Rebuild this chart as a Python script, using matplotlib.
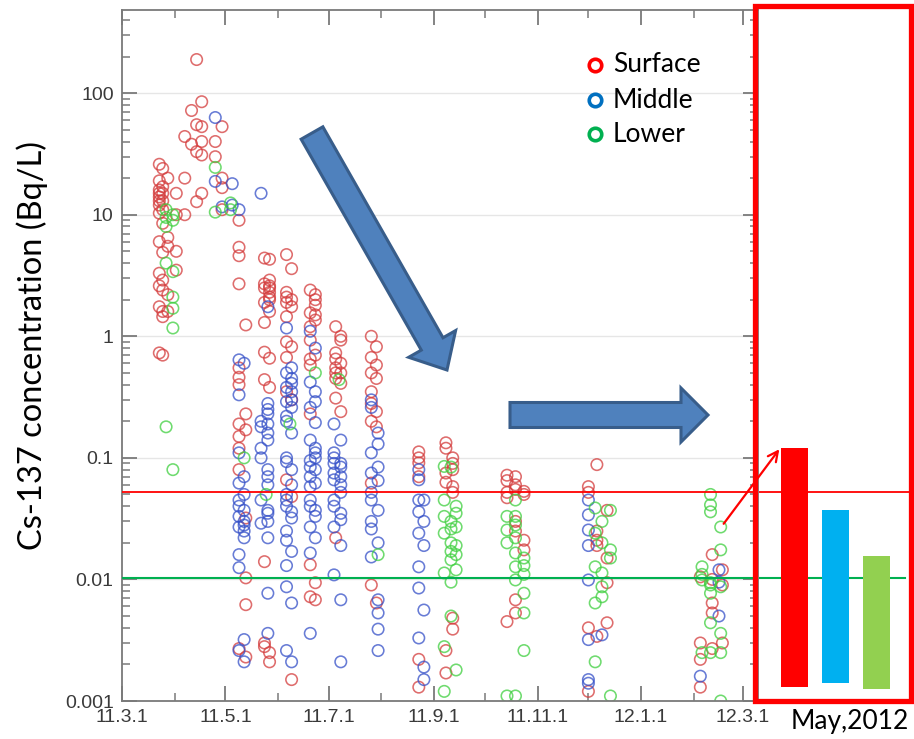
import numpy as np
import matplotlib
matplotlib.use('Agg')
import matplotlib.pyplot as plt
from matplotlib.patches import FancyArrow, Rectangle
from matplotlib.lines import Line2D

# ---- data (Bq/L) ----
surface_days = ["2011-03-23", "2011-03-25", "2011-03-28", "2011-04-02", "2011-04-07",
                "2011-04-11", "2011-04-14", "2011-04-17", "2011-04-25", "2011-04-29",
                "2011-05-09", "2011-05-13", "2011-05-24", "2011-05-27", "2011-06-06",
                "2011-06-09", "2011-06-20", "2011-06-23", "2011-07-05", "2011-07-08",
                "2011-07-26", "2011-07-29", "2011-08-23", "2011-09-08", "2011-09-12",
                "2011-10-14", "2011-10-19", "2011-10-24", "2011-12-01", "2011-12-06",
                "2011-12-12", "2012-02-05", "2012-02-12", "2012-02-18"]
surface_vals = [
    [26, 19, 16, 14, 12, 10.3, 6, 3.3, 2.6, 1.75, 0.73, 15, 13],
    [24, 17, 15, 13, 11, 8.5, 4.9, 2.9, 1.45, 0.7, 2.4, 1.6],
    [20, 5.5, 2.2, 1.6, 6.5],
    [15, 5, 3.5, 10],
    [20, 44, 10],
    [72, 38],
    [189, 55, 33, 12.8],
    [85, 53, 40, 31, 15],
    [40, 30],
    [53, 20, 16.7, 11],
    [9, 5.4, 4.6, 2.7, 0.46, 0.4, 0.19, 0.15, 0.12, 0.08, 0.0027, 0.55],
    [1.24, 0.23, 0.032, 0.0103, 0.0062, 0.0023, 0.17],
    [4.4, 2.7, 1.9, 1.3, 0.74, 0.44, 0.014, 0.003, 2.5, 0.0028],
    [4.3, 2.9, 2.5, 2.3, 2.1, 1.6, 0.66, 0.38, 0.0025, 0.0021, 2.6, 2.0],
    [4.7, 2.1, 1.45, 0.9, 0.67, 0.35, 0.066, 2.3, 1.9],
    [3.6, 1.75, 0.82, 0.3, 0.048, 0.0015, 2.0],
    [2.4, 1.56, 0.93, 0.58, 0.23, 0.0132, 0.0072, 1.2, 0.65],
    [2.2, 2.0, 1.8, 1.36, 0.7, 0.0094, 0.0068, 1.5],
    [1.2, 0.73, 0.5, 0.31, 0.022, 0.55, 0.45, 0.65],
    [1.0, 0.93, 0.6, 0.41, 0.24, 0.5],
    [1.0, 0.67, 0.35, 0.2, 0.062, 0.009, 0.5, 0.28],
    [0.82, 0.58, 0.45, 0.24, 0.18, 0.0064],
    [0.112, 0.091, 0.07, 0.1, 0.0022, 0.0013],
    [0.133, 0.12, 0.063, 0.0017, 0.0026, 0.075],
    [0.1, 0.09, 0.08, 0.052, 0.0048, 0.0039, 0.058],
    [0.072, 0.052, 0.047, 0.0045, 0.065],
    [0.07, 0.06, 0.03, 0.025, 0.0068, 0.0053, 0.055],
    [0.053, 0.021, 0.0175, 0.05],
    [0.058, 0.052, 0.0012, 0.004],
    [0.088, 0.021, 0.019, 0.025, 0.0034],
    [0.037, 0.015, 0.0094, 0.0044],
    [0.0105, 0.003, 0.0022, 0.0013],
    [0.016, 0.0064, 0.0053, 0.0027, 0.01],
    [0.012, 0.009, 0.003],
]

middle_days = ["2011-04-25", "2011-04-29", "2011-05-05", "2011-05-09", "2011-05-12",
               "2011-05-22", "2011-05-26", "2011-06-06", "2011-06-09", "2011-06-20",
               "2011-06-23", "2011-07-04", "2011-07-08", "2011-07-26", "2011-07-30",
               "2011-08-23", "2011-08-26", "2011-12-01", "2011-12-09", "2012-02-05",
               "2012-02-16"]
middle_vals = [
    [63, 18.8],
    [11.6],
    [18, 12],
    [11, 0.64, 0.33, 0.11, 0.062, 0.045, 0.027, 0.016, 0.0125, 0.0026, 0.04, 0.033],
    [0.6, 0.07, 0.05, 0.037, 0.03, 0.025, 0.022, 0.0032, 0.0021, 0.028],
    [15, 0.18, 0.12, 0.045, 0.029, 0.2, 0.1],
    [1.75, 0.28, 0.23, 0.16, 0.08, 0.07, 0.06, 0.037, 0.035, 0.022, 0.0077, 0.0036,
     0.25, 0.19, 0.14, 0.03],
    [1.17, 0.5, 0.29, 0.2, 0.1, 0.093, 0.05, 0.04, 0.021, 0.013, 0.0087, 0.0026,
     0.38, 0.22, 0.045, 0.025],
    [0.45, 0.41, 0.35, 0.26, 0.16, 0.08, 0.06, 0.032, 0.017, 0.0064, 0.0021, 0.3, 0.55,
     0.036],
    [1.1, 0.42, 0.26, 0.14, 0.084, 0.07, 0.045, 0.027, 0.0165, 0.0036, 0.095, 0.058,
     0.04],
    [0.8, 0.35, 0.29, 0.195, 0.12, 0.1, 0.08, 0.062, 0.037, 0.022, 0.11, 0.033],
    [0.19, 0.11, 0.1, 0.075, 0.066, 0.04, 0.027, 0.0109, 0.09, 0.045],
    [0.14, 0.09, 0.084, 0.06, 0.052, 0.031, 0.019, 0.0068, 0.0021, 0.07, 0.035],
    [0.3, 0.26, 0.11, 0.075, 0.052, 0.026, 0.0153, 0.045, 0.03],
    [0.16, 0.13, 0.084, 0.037, 0.02, 0.0068, 0.0053, 0.0039, 0.0026, 0.065],
    [0.08, 0.066, 0.036, 0.024, 0.0127, 0.0085, 0.0033, 0.045],
    [0.045, 0.03, 0.019, 0.0056, 0.0019, 0.0015],
    [0.045, 0.034, 0.0255, 0.019, 0.0099, 0.0032, 0.0015, 0.0014],
    [0.0035],
    [0.0016],
    [0.012, 0.0095, 0.005],
]

lower_days = ["2011-03-27", "2011-03-31", "2011-04-25", "2011-05-04", "2011-05-12",
              "2011-05-25", "2011-06-08", "2011-06-23", "2011-07-07", "2011-07-30",
              "2011-09-07", "2011-09-11", "2011-09-14", "2011-10-14", "2011-10-19",
              "2011-10-24", "2011-12-05", "2011-12-09", "2011-12-14", "2012-02-06",
              "2012-02-11", "2012-02-17"]
lower_vals = [
    [11, 8, 4, 0.18, 9.5],
    [10, 9, 3.4, 2.1, 1.7, 1.17, 0.08],
    [24.5, 10.5],
    [12.5, 11],
    [0.1],
    [0.05],
    [0.19],
    [0.5],
    [0.44],
    [0.016],
    [0.085, 0.033, 0.024, 0.0113, 0.0028, 0.0012, 0.045],
    [0.084, 0.03, 0.02, 0.0145, 0.0095, 0.005, 0.026, 0.017],
    [0.04, 0.027, 0.019, 0.016, 0.012, 0.0018, 0.035],
    [0.033, 0.0255, 0.02, 0.0011],
    [0.045, 0.033, 0.022, 0.0165, 0.0127, 0.0099, 0.0011, 0.028],
    [0.015, 0.013, 0.011, 0.0077, 0.0053, 0.0026],
    [0.0387, 0.024, 0.0127, 0.0064, 0.0021],
    [0.03, 0.02, 0.0113, 0.0087, 0.0072],
    [0.037, 0.0175, 0.015, 0.0011],
    [0.0127, 0.0099, 0.011, 0.0025],
    [0.05, 0.041, 0.036, 0.0094, 0.0077, 0.0044, 0.0025, 0.009],
    [0.027, 0.0175, 0.0087, 0.0036, 0.0025, 0.001],
]

xtick_dates = ["2011-03-01", "2011-05-01", "2011-07-01", "2011-09-01",
               "2011-11-01", "2012-01-01", "2012-03-01"]
xtick_labels = ["11.3.1", "11.5.1", "11.7.1", "11.9.1", "11.11.1", "12.1.1", "12.3.1"]
xminor_dates = ["2011-04-01", "2011-06-01", "2011-08-01", "2011-10-01",
                "2011-12-01", "2012-02-01"]

layer_names = ["Surface", "Middle", "Lower"]
may2012_top = [0.12, 0.037, 0.0156]
may2012_bottom = [0.0013, 0.0014, 0.00125]

red_level = 0.052
green_level = 0.0103


def flatten(days, vals):
    xs, ys = [], []
    for d, v in zip(days, vals):
        xs += [np.datetime64(d)] * len(v)
        ys += v
    return np.array(xs, dtype='datetime64[D]'), np.array(ys)


W, H = 914, 739
fig = plt.figure(figsize=(W / 100, H / 100), dpi=100)
fig.patch.set_facecolor('white')

ymin, ymax = 0.001, 483
axl, axr, axt, axb = 122, 758, 10, 701
ax = fig.add_axes([axl / W, 1 - axb / H, (axr - axl) / W, (axb - axt) / H])
ax.set_yscale('log')
ax.set_ylim(ymin, ymax)
ax.set_xlim(np.datetime64('2011-03-01'), np.datetime64('2012-03-10'))

for y in [0.01, 0.1, 1, 10, 100]:
    ax.axhline(y, color='#e6e6e6', lw=1, zorder=0)

styles = [(surface_days, surface_vals, '#d43c3c'),
          (middle_days, middle_vals, '#3550c8'),
          (lower_days, lower_vals, '#3fcf3f')]
for days, vals, col in styles:
    xs, ys = flatten(days, vals)
    ax.scatter(xs, ys, s=68, facecolors='none', edgecolors=col,
               linewidths=1.15, alpha=0.75, zorder=2)

ax.axhline(red_level, color='#ff0000', lw=1.3, zorder=3)
ax.axhline(green_level, color='#00b050', lw=1.5, zorder=3)

ax.set_xticks([np.datetime64(d) for d in xtick_dates])
ax.set_xticklabels(xtick_labels)
ax.set_xticks([np.datetime64(d) for d in xminor_dates], minor=True)
ax.set_yticks([0.001, 0.01, 0.1, 1, 10, 100])
ax.set_yticklabels(['0.001', '0.01', '0.1', '1', '10', '100'])

for sp in ax.spines.values():
    sp.set_color('#7a7a7a')
    sp.set_linewidth(1.3)
ax.tick_params(which='both', direction='in', top=True, right=True,
               color='#7a7a7a', labelcolor='#3a3a3a')
ax.tick_params(which='major', length=11, width=1.3, labelsize=14, pad=6)
ax.tick_params(which='minor', length=6, width=1.1)
for lab in ax.get_xticklabels() + ax.get_yticklabels():
    lab.set_family('Liberation Sans')

# May 2012 bars next to the main panel
bx0, bx1 = 759, 910
axb2 = fig.add_axes([bx0 / W, 1 - axb / H, (bx1 - bx0) / W, (axb - axt) / H])
axb2.set_yscale('log')
axb2.set_ylim(ymin, ymax)
axb2.set_xlim(-0.866, 2.817)
axb2.axis('off')
heights = np.array(may2012_top) - np.array(may2012_bottom)
axb2.bar(range(3), heights, bottom=may2012_bottom, width=0.66,
         color=['#ff0000', '#00b0f0', '#92d050'], zorder=2)
axb2.axhline(red_level, color='#ff0000', lw=1.3, zorder=1)
axb2.axhline(green_level, color='#00b050', lw=1.5, xmax=0.97, zorder=1)

# red frame around the May 2012 panel
fig.add_artist(Rectangle((755 / W, 1 - 701 / H), 156 / W, 695 / H,
                         transform=fig.transFigure, fill=False,
                         edgecolor='#ff0000', lw=3.8, zorder=10))

# big block arrows (inches from bottom-left)
t = fig.dpi_scale_trans
fig.add_artist(FancyArrow(3.12, (H - 133) / 100, 1.35, -2.37, width=0.25,
                          head_width=0.54, head_length=0.30,
                          length_includes_head=True, transform=t,
                          facecolor='#4f81bd', edgecolor='#385d8a', lw=2.2, zorder=8))
fig.add_artist(FancyArrow(5.10, (H - 415) / 100, 1.98, 0, width=0.25,
                          head_width=0.54, head_length=0.27,
                          length_includes_head=True, transform=t,
                          facecolor='#4f81bd', edgecolor='#385d8a', lw=2.2, zorder=8))

# thin red pointer
ax.annotate('', xy=(781, H - 447), xycoords='figure pixels',
            xytext=(722, H - 526), textcoords='figure pixels',
            arrowprops=dict(arrowstyle='->', color='#ff0000', lw=1.6,
                            mutation_scale=18), zorder=11)

# legend
leg_cols = ['#ff0000', '#0070c0', '#00b050']
for name, col, ypx in zip(layer_names, leg_cols, [65, 100, 134]):
    fig.add_artist(Line2D([595 / W], [1 - ypx / H], marker='o', markersize=9,
                          markerfacecolor='none', markeredgecolor=col,
                          markeredgewidth=2.6, transform=fig.transFigure))
    fig.text(613 / W, 1 - ypx / H, name, family='Lato', fontsize=19,
             va='center', ha='left', color='black')

fig.text(32 / W, 1 - 345 / H, 'Cs-137 concentration (Bq/L)', family='Lato',
         fontsize=23.5, rotation=90, va='center', ha='center')
fig.text(850 / W, 1 - 722 / H, 'May,2012', family='Lato', fontsize=19,
         va='center', ha='center')

fig.savefig('out.png', dpi=100)
